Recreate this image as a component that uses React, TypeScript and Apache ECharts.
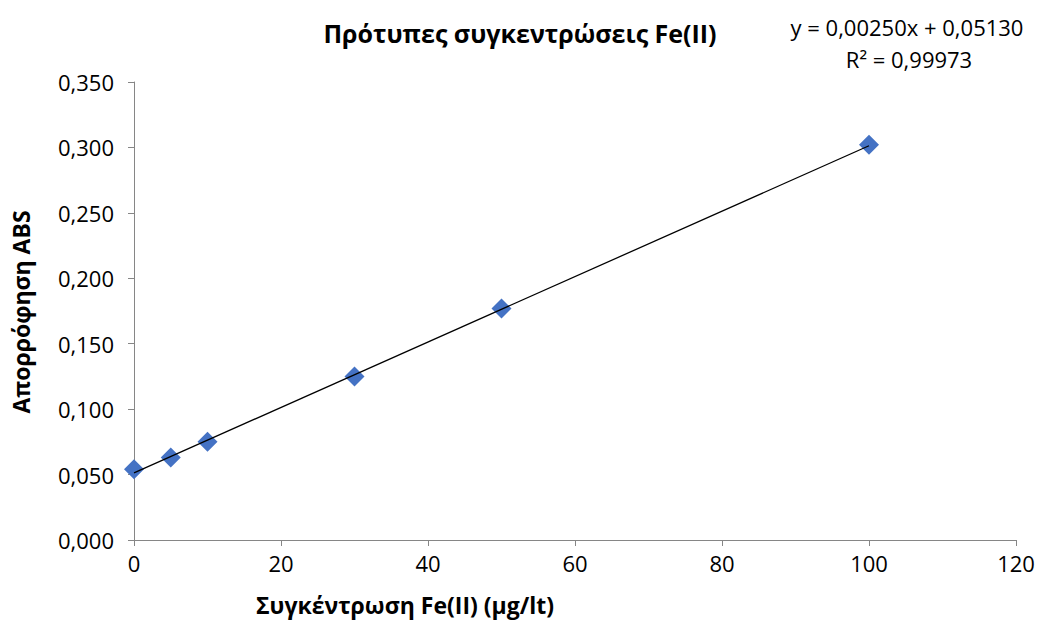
import React, { useEffect, useRef } from "react";
import * as echarts from "echarts";

const concentrations = [0, 5, 10, 30, 50, 100];
const absorbance = [0.054, 0.063, 0.075, 0.125, 0.177, 0.302];
const slope = 0.0025;
const intercept = 0.0513;
const trendRange = [0, 100];
const titleText = "Πρότυπες συγκεντρώσεις Fe(II)";
const eqText = "y = 0,00250x + 0,05130";
const r2Text = "R² = 0,99973";
const xName = "Συγκέντρωση Fe(II) (μg/lt)";
const yName = "Απορρόφηση ABS";

const FONT = "'Open Sans', sans-serif";

export default function App() {
  const ref = useRef<HTMLDivElement>(null);
  useEffect(() => {
    if (!ref.current) return;
    const chart = echarts.init(ref.current, undefined, { renderer: "svg" });
    const pts = concentrations.map((x, i) => [x, absorbance[i]]);
    const trend = trendRange.map((x) => [x, slope * x + intercept]);
    chart.setOption({
      animation: false,
      backgroundColor: "#ffffff",
      grid: { left: 134, right: 23, top: 82, bottom: 82 },
      xAxis: {
        type: "value",
        min: 0,
        max: 120,
        interval: 20,
        axisLine: { show: true, lineStyle: { color: "#868686", width: 1 } },
        axisTick: { show: true, length: 6, lineStyle: { color: "#868686" } },
        splitLine: { show: false },
        axisLabel: { color: "#000", fontSize: 22, fontFamily: FONT, margin: 12 },
      },
      yAxis: {
        type: "value",
        min: 0,
        max: 0.35,
        interval: 0.05,
        axisLine: { show: true, lineStyle: { color: "#868686", width: 1 } },
        axisTick: { show: true, length: 6, lineStyle: { color: "#868686" } },
        splitLine: { show: false },
        axisLabel: {
          color: "#000",
          fontSize: 22,
          fontFamily: FONT,
          margin: 20,
          formatter: (v: number) => v.toFixed(3).replace(".", ","),
        },
      },
      graphic: [
        {
          type: "text",
          x: 520,
          y: 33,
          style: { text: titleText, font: `bold 25px ${FONT}`, fill: "#000", align: "center", verticalAlign: "middle" },
        },
        {
          type: "text",
          x: 907,
          y: 27,
          style: { text: eqText, font: `22px ${FONT}`, fill: "#000", align: "center", verticalAlign: "middle" },
        },
        {
          type: "text",
          x: 909,
          y: 59,
          style: { text: r2Text, font: `22px ${FONT}`, fill: "#000", align: "center", verticalAlign: "middle" },
        },
        {
          type: "text",
          x: 405,
          y: 605,
          style: { text: xName, font: `bold 23px ${FONT}`, fill: "#000", align: "center", verticalAlign: "middle" },
        },
        {
          type: "text",
          x: 21,
          y: 312,
          rotation: Math.PI / 2,
          style: { text: yName, font: `bold 23px ${FONT}`, fill: "#000", align: "center", verticalAlign: "middle" },
        },
      ],
      series: [
        {
          type: "line",
          data: trend,
          symbol: "none",
          lineStyle: { color: "#000", width: 1.3 },
          z: 3,
        },
        {
          type: "scatter",
          data: pts,
          symbol: "diamond",
          symbolSize: [20, 20],
          itemStyle: { color: "#4472C4", opacity: 1 },
          z: 2,
        },
      ],
    });
    return () => chart.dispose();
  }, []);
  return <div ref={ref} style={{ width: 1039, height: 622, position: "absolute", left: 0, top: 0 }} />;
}
